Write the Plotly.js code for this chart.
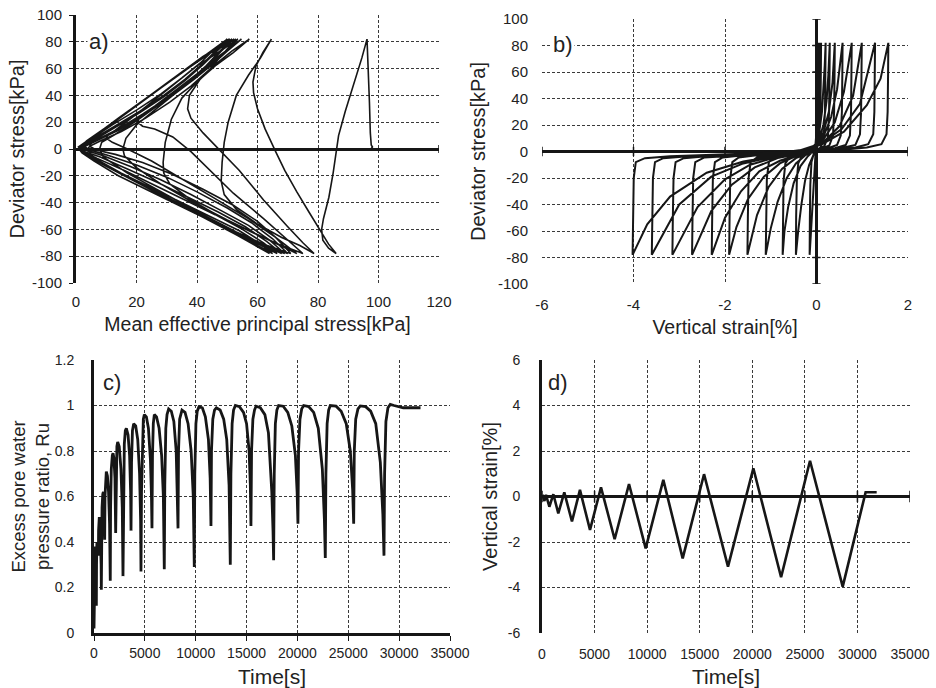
<!DOCTYPE html>
<html>
<head>
<meta charset="utf-8">
<script src="https://cdn.plot.ly/plotly-3.0.1.min.js"></script>
<style>html,body{margin:0;padding:0;background:#fff;}#chart{width:936px;height:688px;}</style>
</head>
<body>
<div id="chart"></div>
<script>
// ---------- Panel a) stress path: [mean effective stress p' (kPa), deviator stress q (kPa)] ----------
const stressPath = [
  [97.5,0],[98,1.5],[97.6,3],[97.3,12],[97,35],[96.7,60],[96.2,82],
  [94.5,68],[92,50],[89,28],[86.8,10],[86.2,0],[85,-18],[83.6,-36],[81.8,-52],[81.2,-60],[81.6,-68],[83.5,-74],[86,-78],
  [83.5,-71],[81,-62],[77,-47],[73,-32],[69,-16],[66,-2],[62.5,15],[60,30],[58.7,42],[58.5,50],[59.5,62],[61.8,72],[64.6,82],
  [61,68],[57,55],[53,40],[50.3,20],[49,5],[48.3,-10],[48,-24],[49,-34],[53,-45],[60,-56],[68,-66],[74,-72],[78.7,-78],
  [75,-70],[70,-58],[62,-38],[54,-16],[48,-2],[42,12],[38,23],[36.9,30],[37.5,40],[41,52],[46,63],[51.5,73],[57.3,82],
  [52,72],[46,62],[40,50],[35,38],[31.5,22],[29.5,5],[28.8,-10],[29,-18],[31,-26],[38,-38],[48,-51],[58,-62],[67,-71],[75,-78],
  [70,-68],[62,-52],[52,-33],[44,-15],[38,-2],[32,9],[26,15],[22,17],[20.4,20],[21,24],[26,32],[33,44],[40,56],[47,69],[54.7,82],
  [50,73],[45,63],[39,52],[32,40],[26,29],[20,18],[16.5,8],[15.5,0],[16,-5],[20,-14],[28,-26],[38,-39],[50,-53],[62,-66],[73,-78],
  [66,-66],[57,-52],[46,-37],[35,-22],[25,-9],[17,0],[12,5],[10,8],[10.5,10.5],[13,14],[20,26],[30,44],[40,62],[47,72],[53.5,82],
  [49,72],[43,60],[36,47],[28,34],[20,21],[13,11],[8.5,5],[7.8,0],[9,-6],[17,-18],[29,-33],[41,-48],[53,-62],[62,-71],[71,-78],
  [66,-66],[60,-54],[52,-42],[42,-30],[32,-19],[22,-10],[13,-4],[7,-1],[4.5,2],[6,9],[15,24],[25,40.5],[35,57],[44,71],[52.8,82],
  [49,72],[44,59],[38,47],[31,35],[23,23],[15,13],[8,6],[4.5,2],[3.9,0],[6,-7],[15,-18],[25,-30],[36,-43],[47,-56],[58,-68],[70,-78],
  [65,-67],[58,-55],[50,-44],[40,-32],[30,-21],[20,-12],[11,-5],[5,-1],[2.5,2],[4.5,7],[14,23],[24,39],[34,55.5],[43,70],[52.2,82],
  [48,73],[43,61],[37,49],[30,37],[22,25],[14,14],[7,6],[3,2],[2,0],[5,-6],[14,-17],[24,-29],[35,-42],[46,-55],[57,-67],[69,-78],
  [64,-68],[57,-57],[48,-46],[38,-34],[28,-23],[18,-13],[9,-5],[4,-1.5],[1.8,2],[3.5,6],[13,21],[23,37.5],[33,54],[42,69],[51.6,82],
  [48,74],[43,62],[37,50],[30,38],[22,26],[14,15],[7,7],[3,2.5],[1.8,0],[4.5,-5.5],[13,-16],[23,-28],[34,-41],[45,-54],[56,-66],[68,-78],
  [63,-69],[56,-58],[47,-47],[37,-36],[27,-25],[17,-15],[8,-6],[3,-2],[1.2,1.5],[3,5],[12,19.5],[22,36],[32,52],[41,67],[51,82],
  [47,74],[42,63],[36,51],[29,39],[21,27],[13,16],[6.5,7.5],[2.5,2.5],[1.3,0],[4,-5],[12,-15],[22,-27],[33,-40],[44,-53],[55,-65],[66.5,-78],
  [62,-70],[55,-60],[46,-49],[36,-38],[26,-27],[16,-16],[7,-7],[2.5,-2],[1,1.5],[2.5,4],[11,18],[21,34],[31,50.5],[40,65],[50.5,82],
  [47,75],[42,64],[36,52],[29,40],[21,28],[13,17],[6,8],[2,2.5],[1,0],[3.5,-4.5],[11,-14],[21,-26],[32,-39],[43,-52],[54,-65],[65,-78],
  [61,-71],[54,-61],[45,-51],[35,-40],[25,-29],[15,-18],[7,-8],[2,-2],[0.8,1.5],[2,3.5],[10,16],[20,32.5],[30,49],[39,63.5],[50,82],
  [46,75],[41,64],[35,53],[28,41],[20,29],[12,18],[5.5,8.5],[1.8,2.5],[0.8,0],[3,-4],[10,-13],[20,-25],[31,-38],[42,-51],[53,-64],[64,-78],
  [60,-72],[53,-63],[44,-53],[34,-42],[24,-31],[14,-20],[6,-9],[2,-3],[1,0]
];

// ---------- Panel b) stress-strain: [vertical strain (%), deviator stress q (kPa)] ----------
const stressStrain = [
  [0,0],[0.005,30],[0.012,60],[0.02,82],
  [0.015,60],[0.005,30],[-0.01,5],[-0.04,-15],[-0.08,-40],[-0.12,-60],[-0.15,-78],
  [-0.145,-50],[-0.135,-25],[-0.11,-8],[-0.07,-2],[-0.03,2],[0,15],[0.02,40],[0.04,60],[0.06,82],
  [0.055,60],[0.045,30],[0.03,10],[-0.01,2],[-0.08,-3],[-0.16,-10],[-0.25,-22],[-0.33,-40],[-0.4,-60],[-0.45,-78],
  [-0.445,-50],[-0.43,-22],[-0.4,-9],[-0.33,-4],[-0.2,-1.5],[-0.08,1],[0,6],[0.04,20],[0.07,45],[0.09,65],[0.1,82],
  [0.095,60],[0.085,30],[0.06,10],[0.01,3],[-0.08,0],[-0.2,-4],[-0.35,-11],[-0.5,-24],[-0.62,-42],[-0.7,-60],[-0.74,-78],
  [-0.735,-50],[-0.72,-22],[-0.68,-9],[-0.58,-4],[-0.4,-2],[-0.2,0],[-0.05,3],[0.05,12],[0.12,30],[0.16,50],[0.18,65],[0.2,82],
  [0.195,60],[0.185,30],[0.16,10],[0.09,3],[-0.05,0.5],[-0.25,-3],[-0.45,-9],[-0.65,-20],[-0.85,-38],[-1.0,-58],[-1.11,-78],
  [-1.1,-50],[-1.085,-20],[-1.04,-8],[-0.9,-4],[-0.65,-2.5],[-0.35,-0.5],[-0.1,2],[0.05,8],[0.15,20],[0.22,38],[0.26,58],[0.29,82],
  [0.285,60],[0.275,30],[0.25,11],[0.17,4],[0.03,1.5],[-0.2,-1.5],[-0.45,-5],[-0.75,-13],[-1.05,-27],[-1.3,-48],[-1.51,-78],
  [-1.5,-50],[-1.485,-20],[-1.44,-8],[-1.3,-4.5],[-1.0,-3],[-0.6,-1.5],[-0.25,1],[0,5],[0.15,14],[0.27,30],[0.35,52],[0.4,82],
  [0.395,60],[0.385,30],[0.36,12],[0.28,4.5],[0.1,2],[-0.15,0],[-0.45,-3.5],[-0.8,-9],[-1.15,-19],[-1.5,-36],[-1.75,-57],[-1.91,-78],
  [-1.9,-50],[-1.885,-20],[-1.84,-8],[-1.7,-4.5],[-1.35,-3],[-0.9,-2],[-0.45,0],[-0.1,3],[0.15,11],[0.32,26],[0.45,47],[0.57,82],
  [0.565,60],[0.555,30],[0.53,12],[0.45,5],[0.25,2.5],[-0.05,0.5],[-0.4,-2.5],[-0.8,-7],[-1.25,-15],[-1.65,-30],[-2.0,-50],[-2.29,-78],
  [-2.28,-50],[-2.265,-20],[-2.22,-8],[-2.05,-4.5],[-1.65,-3],[-1.1,-2],[-0.55,-0.5],[-0.15,2],[0.15,9],[0.4,22],[0.6,45],[0.77,82],
  [0.765,60],[0.755,30],[0.73,12],[0.64,5],[0.4,2.5],[0.05,1],[-0.35,-1.5],[-0.85,-5],[-1.35,-12],[-1.85,-25],[-2.3,-45],[-2.72,-78],
  [-2.71,-50],[-2.695,-20],[-2.65,-8],[-2.45,-4.5],[-2.0,-3.5],[-1.4,-2.5],[-0.8,-1],[-0.25,1.5],[0.15,7],[0.5,19],[0.8,42],[0.99,82],
  [0.985,60],[0.975,30],[0.95,13],[0.85,5],[0.6,3],[0.2,1.5],[-0.3,-1],[-0.85,-4],[-1.45,-10],[-2.0,-21],[-2.6,-42],[-3.15,-78],
  [-3.14,-50],[-3.125,-20],[-3.08,-8],[-2.9,-5],[-2.4,-3.5],[-1.7,-2.5],[-1.0,-1.5],[-0.35,1],[0.1,6],[0.55,17],[0.95,36],[1.28,82],
  [1.275,60],[1.265,30],[1.24,13],[1.13,5.5],[0.85,3],[0.4,1.5],[-0.2,-0.5],[-0.9,-3.5],[-1.6,-9],[-2.3,-19],[-3.0,-40],[-3.6,-78],
  [-3.59,-50],[-3.575,-20],[-3.53,-8],[-3.35,-5],[-2.8,-3.5],[-2.0,-2.5],[-1.2,-1.5],[-0.4,0.5],[0.1,5],[0.6,15],[1.1,35],[1.4,55],[1.57,82],
  [1.565,60],[1.555,30],[1.53,13],[1.42,5.5],[1.1,3],[0.6,1.5],[0,-0.5],[-0.8,-3],[-1.6,-7.5],[-2.4,-16],[-3.2,-34],[-3.7,-55],[-4.02,-78],
  [-4.01,-50],[-3.995,-20],[-3.95,-8],[-3.75,-5],[-3.2,-3.5],[-2.4,-2.5],[-1.5,-1.5],[-0.6,-0.5],[0.2,0]
];

// ---------- Panel c) excess pore water pressure ratio Ru vs time ----------
const ruTime = [
  0,60,120,180,230, 250,280,300,340,390,430, 450,490,520,580,650,700,720,
  740,790,860,920,980,1030,1050, 1080,1140,1210,1320,1430,1530,1600,
  1630,1700,1800,1870,1960,2060,2130, 2170,2250,2330,2480,2650,2780,2850,
  2890,2980,3080,3180,3350,3500,3600,3640, 3690,3780,3900,4100,4300,4480,4580,4620,
  4670,4760,4850,4950,5150,5350,5550,5650,5700, 5750,5830,5930,6150,6400,6650,6820,6910,
  6960,7060,7180,7340,7600,7850,8080,8200,8260, 8310,8420,8650,8950,9250,9550,9760,9860,
  9910,10020,10150,10320,10650,10950,11250,11420,11500, 11550,11680,11850,12030,12400,12750,13050,13280,13400,
  13460,13580,13720,13900,14300,14700,15000,15250,15370,15430, 15490,15620,15780,15930,16350,16800,17150,17480,17600,17660,
  17720,17830,17980,18150,18600,19050,19450,19800,19970,20050, 20110,20250,20420,20610,21100,21600,22050,22450,22650,22740,
  22800,22920,23070,23230,23800,24300,24800,25200,25430,25530, 25590,25730,25950,26180,26700,27200,27700,28150,28400,28510,
  28570,28700,28900,29130,29500,30000,30400,31000,32100
];
const ruValue = [
  0.02,0.28,0.38,0.3,0.12, 0.3,0.39,0.40,0.39,0.37,0.34, 0.45,0.5,0.51,0.49,0.42,0.3,0.19,
  0.4,0.55,0.61,0.62,0.58,0.5,0.41, 0.6,0.69,0.71,0.69,0.62,0.48,0.23,
  0.55,0.72,0.78,0.79,0.77,0.68,0.44, 0.7,0.82,0.84,0.82,0.72,0.55,0.25,
  0.6,0.83,0.89,0.90,0.87,0.78,0.62,0.45, 0.75,0.89,0.92,0.91,0.85,0.7,0.5,0.27,
  0.62,0.88,0.94,0.96,0.95,0.9,0.76,0.6,0.46, 0.78,0.92,0.96,0.95,0.9,0.78,0.6,0.28,
  0.65,0.9,0.96,0.985,0.975,0.93,0.8,0.62,0.46, 0.8,0.94,0.98,0.97,0.92,0.8,0.6,0.29,
  0.7,0.92,0.975,0.995,0.99,0.95,0.85,0.68,0.47, 0.8,0.94,0.98,0.99,0.98,0.94,0.85,0.65,0.30,
  0.7,0.92,0.98,1.0,0.995,0.97,0.92,0.8,0.65,0.47, 0.8,0.94,0.98,0.997,0.99,0.96,0.88,0.62,0.45,0.32,
  0.7,0.92,0.98,1.0,0.997,0.97,0.91,0.78,0.62,0.48, 0.8,0.94,0.985,1.0,0.995,0.97,0.9,0.72,0.5,0.33,
  0.7,0.92,0.98,1.0,0.997,0.975,0.92,0.8,0.63,0.48, 0.8,0.94,0.985,0.998,0.995,0.975,0.92,0.75,0.52,0.34,
  0.7,0.93,0.99,1.005,1.0,0.995,0.99,0.99,0.99
];

// ---------- Panel d) vertical strain vs time ----------
const strainTime = [0,80,230,380,700,1080,1550,2120,2850,3610,4565,5610,6910,8275,9860,11540,13380,15410,17690,20100,22740,25490,28600,30780,31830];
const strainValue = [0,0.02,-0.2,0.07,-0.45,0.1,-0.74,0.18,-1.1,0.29,-1.47,0.4,-1.88,0.55,-2.28,0.73,-2.72,0.98,-3.08,1.24,-3.55,1.57,-3.96,0.19,0.19];

// ---------- Tick values and labels ----------
const qTicks = [-100,-80,-60,-40,-20,0,20,40,60,80,100];
const qTickText = ['-100','-80','-60','-40','-20','0','20','40','60','80','100'];
const pTicks = [0,20,40,60,80,100,120];
const strainTicksB = [-6,-4,-2,0,2];
const strainTickTextB = ['-6','-4','-2','0','2'];
const ruTicks = [0,0.2,0.4,0.6,0.8,1,1.2];
const timeTicks = [0,5000,10000,15000,20000,25000,30000,35000];
const strainTicksD = [-6,-4,-2,0,2,4,6];
const strainTickTextD = ['-6','-4','-2','0','2','4','6'];

const INK = '#161616';
const GRID = '#3a3a3a';
const SANS = '"Liberation Sans", Arial, sans-serif';
const tickFont = {family: SANS, size: 15, color: '#222'};
const tickFontCD = {family: SANS, size: 14, color: '#222'};
const xTitleFont = {family: SANS, size: 19.5, color: '#222'};
const yTitleFont = {family: SANS, size: 20, color: '#222'};

const traces = [
  {x: stressPath.map(d => d[0]), y: stressPath.map(d => d[1]), xaxis: 'x', yaxis: 'y', type: 'scatter', mode: 'lines',
   line: {color: INK, width: 1.6}, hoverinfo: 'skip'},
  {x: stressStrain.map(d => d[0]), y: stressStrain.map(d => d[1]), xaxis: 'x2', yaxis: 'y2', type: 'scatter', mode: 'lines',
   line: {color: INK, width: 2}, hoverinfo: 'skip'},
  {x: ruTime, y: ruValue, xaxis: 'x3', yaxis: 'y3', type: 'scatter', mode: 'lines',
   line: {color: INK, width: 2.8}, hoverinfo: 'skip'},
  {x: strainTime, y: strainValue, xaxis: 'x4', yaxis: 'y4', type: 'scatter', mode: 'lines',
   line: {color: INK, width: 2.6}, hoverinfo: 'skip'}
];

function gridAxis(extra) {
  return Object.assign({
    showgrid: true, gridcolor: GRID, gridwidth: 1, griddash: '3px,2px',
    zeroline: false, showline: false, ticks: '', tickfont: tickFont,
    fixedrange: true, automargin: false
  }, extra);
}

const dA = {x: [76/936, 439/936], y: [1 - 283/688, 1 - 15/688]};
const dB = {x: [542/936, 908/936], y: [1 - 284/688, 1 - 19/688]};
const dC = {x: [94/936, 450/936], y: [1 - 633/688, 1 - 360/688]};
const dD = {x: [542/936, 910/936], y: [1 - 633/688, 1 - 360/688]};

const layout = {
  width: 936, height: 688, margin: {l: 0, r: 0, t: 0, b: 0},
  paper_bgcolor: '#fff', plot_bgcolor: '#fff', showlegend: false,
  xaxis: gridAxis({domain: dA.x, anchor: 'y', range: [0, 120], tickvals: pTicks, ticklabelstandoff: 8,
    title: {text: 'Mean effective principal stress[kPa]', font: xTitleFont, standoff: 8}}),
  yaxis: gridAxis({domain: dA.y, anchor: 'x', range: [-100, 100], tickvals: qTicks, ticktext: qTickText,
    zeroline: true, zerolinecolor: INK, zerolinewidth: 3, ticklabelstandoff: 4,
    showline: true, linecolor: INK, linewidth: 3, ticks: 'outside', ticklen: 4, tickcolor: INK,
    title: {text: 'Deviator stress[kPa]', font: yTitleFont, standoff: 2}}),
  xaxis2: gridAxis({domain: dB.x, anchor: 'y2', range: [-6, 2], tickvals: strainTicksB, ticktext: strainTickTextB,
    zeroline: true, zerolinecolor: INK, zerolinewidth: 3, ticklabelstandoff: 10,
    title: {text: 'Vertical strain[%]', font: xTitleFont, standoff: 8}}),
  yaxis2: gridAxis({domain: dB.y, anchor: 'x2', range: [-100, 100], tickvals: qTicks, ticktext: qTickText,
    zeroline: true, zerolinecolor: INK, zerolinewidth: 3, ticklabelstandoff: 13,
    title: {text: 'Deviator stress[kPa]', font: yTitleFont, standoff: 6}}),
  xaxis3: gridAxis({domain: dC.x, anchor: 'y3', range: [0, 35000], tickvals: timeTicks, tickformat: 'd',
    tickfont: tickFontCD, showline: true, linecolor: INK, linewidth: 3, ticks: 'outside', ticklen: 5, tickcolor: INK,
    ticklabelstandoff: 0,
    title: {text: 'Time[s]', font: {family: SANS, size: 21, color: '#222'}, standoff: 10}}),
  yaxis3: gridAxis({domain: dC.y, anchor: 'x3', range: [0, 1.2], tickvals: ruTicks,
    tickfont: tickFontCD, showline: true, linecolor: INK, linewidth: 3, ticklabelstandoff: 14,
    title: {text: 'Excess pore water<br>pressure ratio, Ru', font: {family: SANS, size: 18.5, color: '#222'}, standoff: 1}}),
  xaxis4: gridAxis({domain: dD.x, anchor: 'y4', range: [0, 35000], tickvals: timeTicks, tickformat: 'd',
    tickfont: tickFontCD, ticklabelstandoff: 11,
    title: {text: 'Time[s]', font: {family: SANS, size: 21, color: '#222'}, standoff: 8}}),
  yaxis4: gridAxis({domain: dD.y, anchor: 'x4', range: [-6, 6], tickvals: strainTicksD, ticktext: strainTickTextD,
    tickfont: tickFontCD, zeroline: true, zerolinecolor: INK, zerolinewidth: 3,
    showline: true, linecolor: INK, linewidth: 3, ticklabelstandoff: 16,
    title: {text: 'Vertical strain[%]', font: yTitleFont, standoff: 5}}),
  annotations: [
    {text: 'a)', xref: 'x', yref: 'y', x: 7.6, y: 80.5, showarrow: false, bgcolor: '#fff', font: {family: SANS, size: 22, color: '#222'}},
    {text: 'b)', xref: 'x2', yref: 'y2', x: -5.54, y: 80.5, showarrow: false, bgcolor: '#fff', font: {family: SANS, size: 22, color: '#222'}},
    {text: 'c)', xref: 'x3', yref: 'y3', x: 1770, y: 1.1, showarrow: false, bgcolor: '#fff', font: {family: SANS, size: 22, color: '#222'}},
    {text: 'd)', xref: 'x4', yref: 'y4', x: 1520, y: 5.0, showarrow: false, bgcolor: '#fff', font: {family: SANS, size: 22, color: '#222'}}
  ],
  shapes: []
};

// small cross ticks on the thick zero lines
qTicks.forEach(v => layout.shapes.push({type: 'line', xref: 'x2', yref: 'y2', x0: -0.09, x1: 0.09, y0: v, y1: v, line: {color: INK, width: 1.5}}));
strainTicksB.forEach(v => layout.shapes.push({type: 'line', xref: 'x2', yref: 'y2', x0: v, x1: v, y0: -3.5, y1: 3.5, line: {color: INK, width: 1.5}}));
timeTicks.forEach(v => layout.shapes.push({type: 'line', xref: 'x4', yref: 'y4', x0: v, x1: v, y0: -0.25, y1: 0.25, line: {color: INK, width: 1.5}}));
layout.shapes.push({type: 'line', xref: 'x', yref: 'y', x0: 120, x1: 120, y0: -3, y1: 3, line: {color: INK, width: 1.5}});

Plotly.newPlot('chart', traces, layout, {staticPlot: true, displayModeBar: false});
</script>
</body>
</html>
